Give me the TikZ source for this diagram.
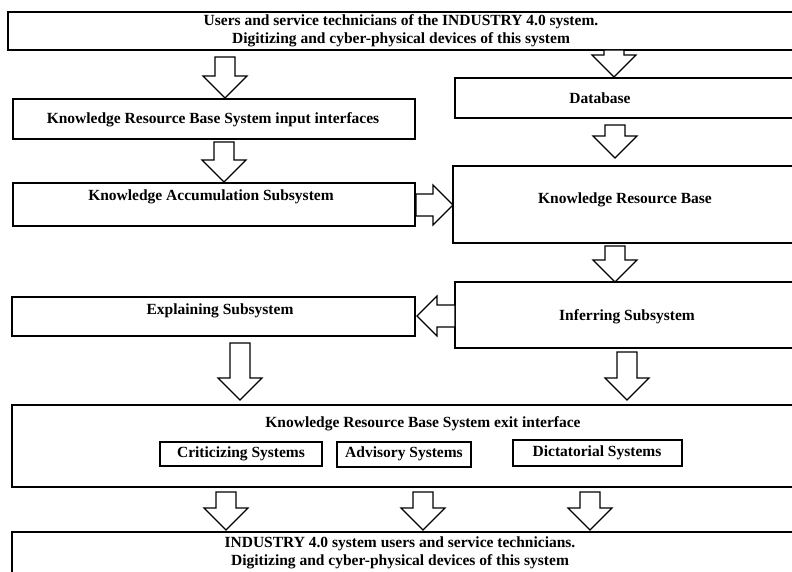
\documentclass[tikz,border=0pt]{standalone}
\usepackage{fontspec}
\setmainfont{Liberation Serif}
\usetikzlibrary{calc}
\tikzset{
  box/.style={draw=black, line width=1.4pt, fill=white},
  lbl/.style={font=\fontsize{15.5}{17.5}\selectfont\bfseries, inner sep=0pt, align=center},
  barrow/.style={draw=black, line width=1.2pt, fill=white, line join=miter},
}
\newcommand\dnarr[2]{\draw[barrow] let \p1=(#1), \p2=(#2) in
  (\x1-10pt,\y1) -- (\x1-10pt,\y2+22pt) -- (\x1-22pt,\y2+22pt) -- (\x1,\y2)
  -- (\x1+22pt,\y2+22pt) -- (\x1+10pt,\y2+22pt) -- (\x1+10pt,\y1) -- cycle;}
\newcommand\rtarr[2]{\draw[barrow] let \p1=(#1), \p2=(#2) in
  (\x1,\y1+11pt) -- (\x2-20pt,\y1+11pt) -- (\x2-20pt,\y1+20pt) -- (\x2,\y1)
  -- (\x2-20pt,\y1-20pt) -- (\x2-20pt,\y1-11pt) -- (\x1,\y1-11pt) -- cycle;}
\newcommand\ltarr[2]{\draw[barrow] let \p1=(#1), \p2=(#2) in
  (\x1,\y1+11pt) -- (\x2+20pt,\y1+11pt) -- (\x2+20pt,\y1+20pt) -- (\x2,\y1)
  -- (\x2+20pt,\y1-20pt) -- (\x2+20pt,\y1-11pt) -- (\x1,\y1-11pt) -- cycle;}
\begin{document}
\begin{tikzpicture}[x=1pt,y=-1pt]
\useasboundingbox (0,0) rectangle (792,572);
\clip (0,0) rectangle (792,572);
% boxes
\draw[box] (8,12) rectangle (800,50);
\node[lbl] (toptext) at (401,31) {Users and service technicians of the INDUSTRY 4.0 system.\\Digitizing and cyber-physical devices of this system};

\draw[box] (13,99) rectangle (415,139);
\node[lbl] (inp) at (213,120) {Knowledge Resource Base System input interfaces};

\draw[box] (455,78) rectangle (800,118);
\node[lbl] (db) at (600,98) {Database};

\draw[box] (13,183) rectangle (415,226);
\node[lbl] (acc) at (211,197) {Knowledge Accumulation Subsystem};

\draw[box] (453,166) rectangle (800,243);
\node[lbl] (krb) at (625,200) {Knowledge Resource Base};

\draw[box] (12,297) rectangle (415,336);
\node[lbl] (exp) at (220,311) {Explaining Subsystem};

\draw[box] (455,282) rectangle (800,348);
\node[lbl] (inf) at (627,317) {Inferring Subsystem};

\draw[box] (12,405) rectangle (800,487);
\node[lbl] (exit) at (423,424) {Knowledge Resource Base System exit interface};
\draw[box] (160,442) rectangle (322,466);
\node[lbl] (crit) at (241,454) {Criticizing Systems};
\draw[box] (337,442) rectangle (471,467);
\node[lbl] (adv) at (404,454) {Advisory Systems};
\draw[box] (513,440) rectangle (682,466);
\node[lbl] (dict) at (597,453) {Dictatorial Systems};

\draw[box] (12,532) rectangle (800,590);
\node[lbl] (bot) at (400,553) {INDUSTRY 4.0 system users and service technicians.\\Digitizing and cyber-physical devices of this system};

% arrow end points
\coordinate (a1s) at (225,57);  \coordinate (a1e) at (225,98);
\coordinate (a2s) at (614,50);  \coordinate (a2e) at (614,77);
\coordinate (a3s) at (224,142); \coordinate (a3e) at (224,182);
\coordinate (a4s) at (615,125); \coordinate (a4e) at (615,158);
\coordinate (a5s) at (416,205); \coordinate (a5e) at (453,205);
\coordinate (a6s) at (615,246); \coordinate (a6e) at (615,282);
\coordinate (a7s) at (455,316); \coordinate (a7e) at (417,316);
\coordinate (a8s) at (240,343); \coordinate (a8e) at (240,400);
\coordinate (a9s) at (627,352); \coordinate (a9e) at (627,400);
\coordinate (a10s) at (226,492); \coordinate (a10e) at (226,530);
\coordinate (a11s) at (423,492); \coordinate (a11e) at (423,530);
\coordinate (a12s) at (590,492); \coordinate (a12e) at (590,530);

\dnarr{a1s}{a1e}
\dnarr{a2s}{a2e}
\dnarr{a3s}{a3e}
\dnarr{a4s}{a4e}
\rtarr{a5s}{a5e}
\dnarr{a6s}{a6e}
\ltarr{a7s}{a7e}
\dnarr{a8s}{a8e}
\dnarr{a9s}{a9e}
\dnarr{a10s}{a10e}
\dnarr{a11s}{a11e}
\dnarr{a12s}{a12e}
\end{tikzpicture}
\end{document}
